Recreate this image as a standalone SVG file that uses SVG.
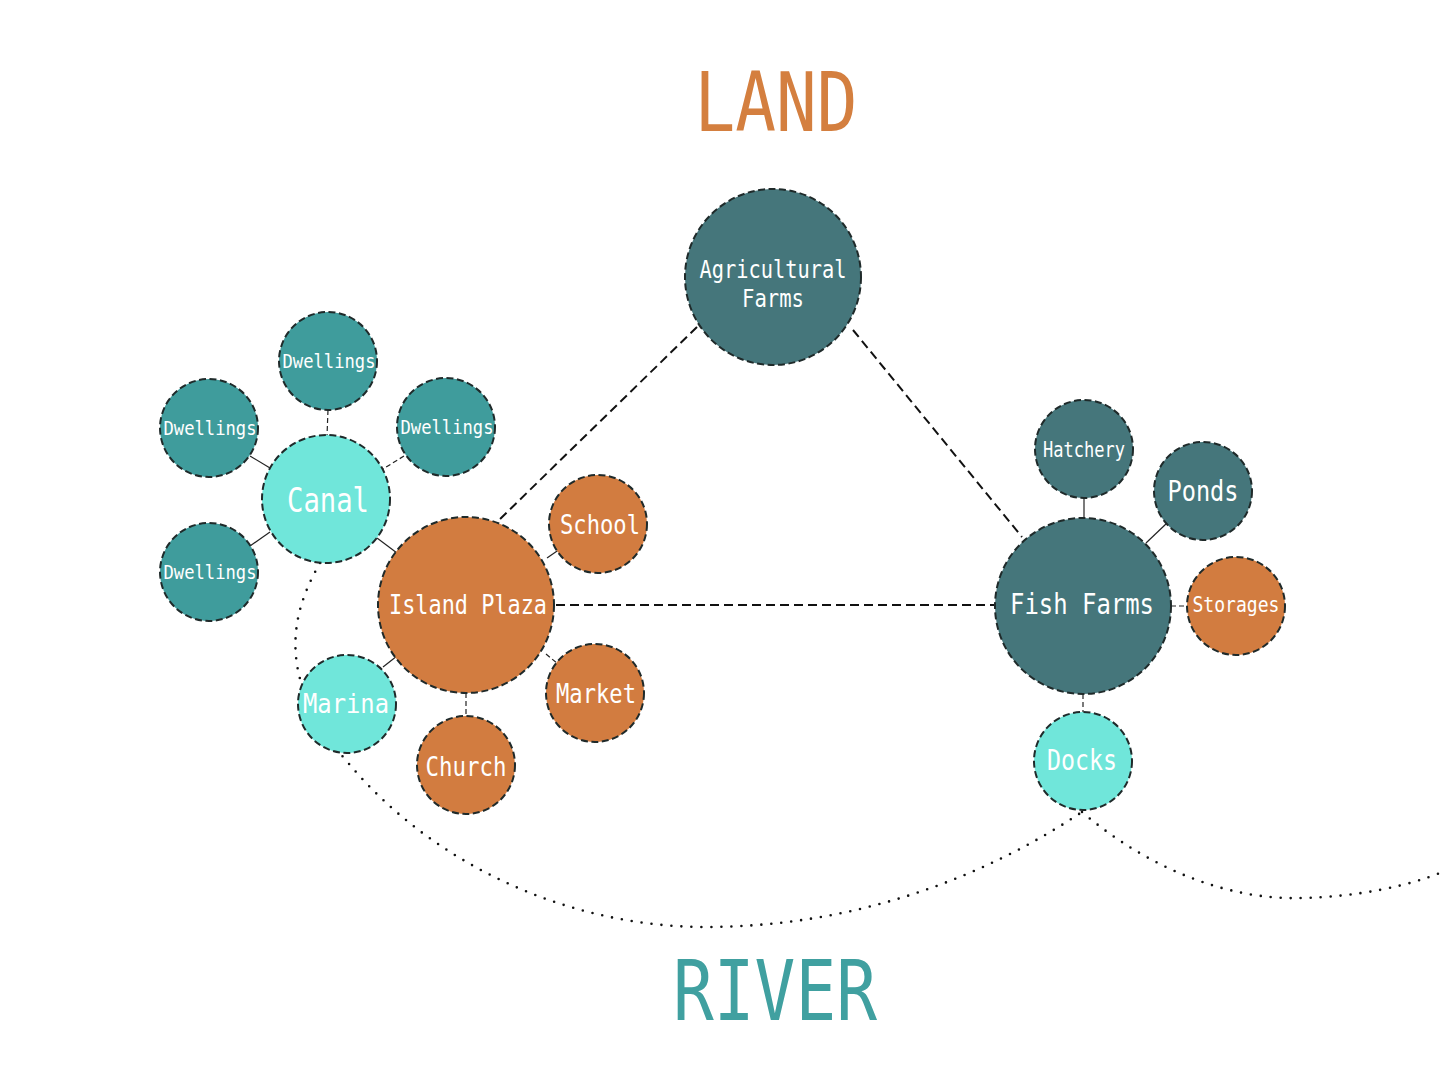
<svg xmlns="http://www.w3.org/2000/svg" width="1440" height="1080" viewBox="0 0 1440 1080">
<style>
.n{stroke:#1f2a2a;stroke-width:2;stroke-dasharray:7 3.5}
.dk{fill:#45767b}
.tl{fill:#3f9c9c}
.lt{fill:#70e6da}
.or{fill:#d27c40}
.t{font-family:"DejaVu Sans Mono","Liberation Mono",monospace;fill:#ffffff;text-anchor:middle}
.main{stroke:#111;stroke-width:2;stroke-dasharray:9 5;fill:none}
.sm{stroke:#222;stroke-width:1.2;fill:none}
.smd{stroke:#222;stroke-width:1.2;stroke-dasharray:5 3;fill:none}
.dot{stroke:#111;stroke-width:2.6;stroke-linecap:round;stroke-dasharray:0 10;fill:none}
</style>
<rect width="1440" height="1080" fill="#ffffff"/>
<text x="776" y="131" font-family="DejaVu Sans Mono,Liberation Mono,monospace" font-size="82" fill="#d47f3f" text-anchor="middle" textLength="163" lengthAdjust="spacingAndGlyphs">LAND</text>
<text x="775" y="1020" font-family="DejaVu Sans Mono,Liberation Mono,monospace" font-size="84" fill="#40a0a0" text-anchor="middle" textLength="204" lengthAdjust="spacingAndGlyphs">RIVER</text>
<g id="connectors">
<path class="dot" d="M320,563 C290,615 275,680 350,765 C430,860 560,925 700,927 C850,928 980,880 1082,812"/>
<path class="dot" d="M1082,812 C1150,870 1230,900 1300,898 C1360,897 1410,885 1440,873"/>
<line class="main" x1="697" y1="327" x2="498" y2="521"/>
<line class="main" x1="853" y1="330" x2="1022" y2="537"/>
<line class="main" x1="556" y1="605" x2="995" y2="605"/>
<line class="smd" x1="328" y1="410" x2="327" y2="436"/>
<line class="sm" x1="250" y1="456" x2="270" y2="468"/>
<line class="smd" x1="404" y1="456" x2="383" y2="469"/>
<line class="sm" x1="250" y1="546" x2="270" y2="532"/>
<line class="sm" x1="377" y1="538" x2="397" y2="553"/>
<line class="sm" x1="547" y1="558" x2="560" y2="549"/>
<line class="smd" x1="546" y1="654" x2="558" y2="664"/>
<line class="smd" x1="466" y1="693" x2="466" y2="717"/>
<line class="sm" x1="383" y1="667" x2="397" y2="656"/>
<line class="sm" x1="1084" y1="497" x2="1084" y2="518"/>
<line class="sm" x1="1146" y1="543" x2="1167" y2="523"/>
<line class="smd" x1="1171" y1="606" x2="1187" y2="606"/>
<line class="smd" x1="1083" y1="694" x2="1083" y2="712"/>
</g>
<g id="agricultural-farms">
<circle class="n dk" cx="773" cy="277" r="88"/>
<text class="t" x="773" y="278" font-size="24" textLength="147" lengthAdjust="spacingAndGlyphs">Agricultural</text>
<text class="t" x="773" y="307" font-size="24" textLength="62" lengthAdjust="spacingAndGlyphs">Farms</text>
</g>
<g id="dwellings-top">
<circle class="n tl" cx="328" cy="361" r="49"/>
<text class="t" x="329" y="368" font-size="20" textLength="93" lengthAdjust="spacingAndGlyphs">Dwellings</text>
</g>
<g id="dwellings-left">
<circle class="n tl" cx="209" cy="428" r="49"/>
<text class="t" x="210" y="435" font-size="20" textLength="93" lengthAdjust="spacingAndGlyphs">Dwellings</text>
</g>
<g id="dwellings-right">
<circle class="n tl" cx="446" cy="427" r="49"/>
<text class="t" x="447" y="434" font-size="20" textLength="93" lengthAdjust="spacingAndGlyphs">Dwellings</text>
</g>
<g id="dwellings-lower">
<circle class="n tl" cx="209" cy="572" r="49"/>
<text class="t" x="210" y="579" font-size="20" textLength="93" lengthAdjust="spacingAndGlyphs">Dwellings</text>
</g>
<g id="canal">
<circle class="n lt" cx="326" cy="499" r="64"/>
<text class="t" x="328" y="512" font-size="33" textLength="82" lengthAdjust="spacingAndGlyphs">Canal</text>
</g>
<g id="island-plaza">
<circle class="n or" cx="466" cy="605" r="88"/>
<text class="t" x="468" y="614" font-size="26" textLength="158" lengthAdjust="spacingAndGlyphs">Island Plaza</text>
</g>
<g id="school">
<circle class="n or" cx="598" cy="524" r="49"/>
<text class="t" x="600" y="534" font-size="27" textLength="80" lengthAdjust="spacingAndGlyphs">School</text>
</g>
<g id="market">
<circle class="n or" cx="595" cy="693" r="49"/>
<text class="t" x="596" y="703" font-size="27" textLength="80" lengthAdjust="spacingAndGlyphs">Market</text>
</g>
<g id="church">
<circle class="n or" cx="466" cy="765" r="49"/>
<text class="t" x="466" y="776" font-size="27" textLength="81" lengthAdjust="spacingAndGlyphs">Church</text>
</g>
<g id="marina">
<circle class="n lt" cx="347" cy="704" r="49"/>
<text class="t" x="346" y="713" font-size="27" textLength="86" lengthAdjust="spacingAndGlyphs">Marina</text>
</g>
<g id="fish-farms">
<circle class="n dk" cx="1083" cy="606" r="88"/>
<text class="t" x="1082" y="614" font-size="29" textLength="144" lengthAdjust="spacingAndGlyphs">Fish Farms</text>
</g>
<g id="hatchery">
<circle class="n dk" cx="1084" cy="449" r="49"/>
<text class="t" x="1084" y="457" font-size="21" textLength="82" lengthAdjust="spacingAndGlyphs">Hatchery</text>
</g>
<g id="ponds">
<circle class="n dk" cx="1203" cy="491" r="49"/>
<text class="t" x="1203" y="501" font-size="29" textLength="71" lengthAdjust="spacingAndGlyphs">Ponds</text>
</g>
<g id="storages">
<circle class="n or" cx="1236" cy="606" r="49"/>
<text class="t" x="1236" y="612" font-size="21" textLength="87" lengthAdjust="spacingAndGlyphs">Storages</text>
</g>
<g id="docks">
<circle class="n lt" cx="1083" cy="761" r="49"/>
<text class="t" x="1082" y="770" font-size="28" textLength="70" lengthAdjust="spacingAndGlyphs">Docks</text>
</g>
</svg>
